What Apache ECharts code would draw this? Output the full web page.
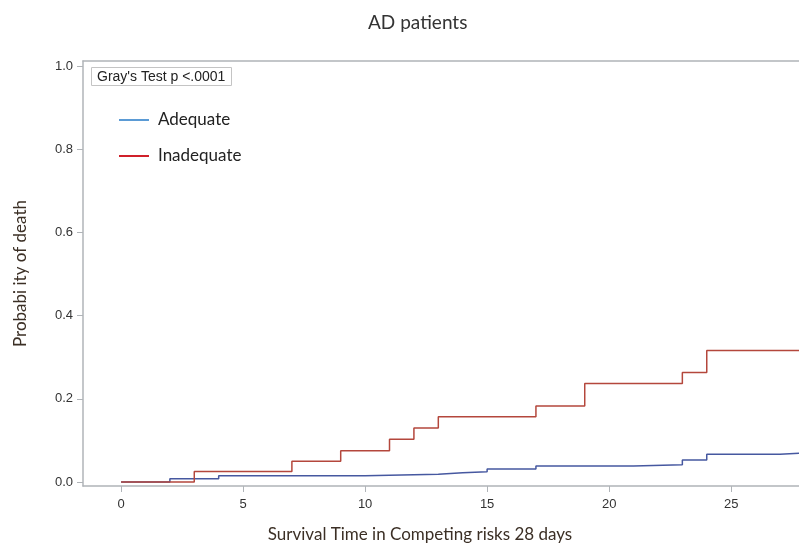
<!DOCTYPE html>
<html>
<head>
<meta charset="utf-8">
<title>AD patients</title>
<script src="https://cdn.jsdelivr.net/npm/echarts@6/dist/echarts.min.js"></script>
<style>
  html, body { margin: 0; padding: 0; background: #fff; overflow: hidden; }
  #main { width: 799px; height: 548px; }
</style>
</head>
<body>
<div id="main"></div>
<script>
// cumulative incidence (time in days, probability)
var adequateTime = [0, 2, 4, 10, 13, 14, 15, 17, 21, 23, 24, 27, 28];
var adequateProb = [0, 0.008, 0.015, 0.0185, 0.0224, 0.0248, 0.031, 0.0385, 0.0417, 0.053, 0.0665, 0.0697, 0.0697];
var inadequateTime = [0, 3, 7, 9, 11, 12, 13, 17, 19, 23, 24, 28];
var inadequateProb = [0, 0.025, 0.05, 0.075, 0.103, 0.13, 0.157, 0.183, 0.237, 0.263, 0.316, 0.316];
var xTicks = [0, 5, 10, 15, 20, 25];
var yTicks = [0, 0.2, 0.4, 0.6, 0.8, 1.0];

function pairs(xs, ys) {
    var out = [];
    for (var i = 0; i < xs.length; i++) out.push([xs[i], ys[i]]);
    return out;
}

var myChart = echarts.init(document.getElementById('main'));
var axisGray = '#b0b4b8';
var nameColor = '#3b2f25';
var xMin = -1.56, xMax = 27.78;

var option = {
    animation: false,
    title: [{
        text: 'AD patients',
        left: 363,
        top: 8,
        textStyle: { fontFamily: 'Lato', fontSize: 19, fontWeight: 'normal', color: '#333' }
    }, {
        text: "Gray's Test p <.0001",
        left: 91,
        top: 67,
        padding: [3, 6, 2, 6],
        borderColor: '#c4c4c4',
        borderWidth: 1,
        textStyle: { fontFamily: 'Liberation Sans', fontSize: 14, fontWeight: 'normal', color: '#222' }
    }],
    legend: {
        orient: 'vertical',
        left: 114,
        top: 105,
        itemWidth: 30,
        itemHeight: 14,
        itemGap: 16,
        textStyle: { fontFamily: 'Lato', fontSize: 17, color: '#222', lineHeight: 20, padding: [0, 0, 0, 4] },
        data: [
            { name: 'Adequate', icon: 'path://M0,6 L30,6 L30,8 L0,8 Z', itemStyle: { color: '#5b9bd5' } },
            { name: 'Inadequate', icon: 'path://M0,6 L30,6 L30,8 L0,8 Z', itemStyle: { color: '#d0202a' } }
        ]
    },
    grid: { left: 83, right: 0, top: 61, bottom: 62 },
    xAxis: [{
        type: 'value',
        min: xMin,
        max: xMax,
        name: 'Survival Time in Competing risks 28 days',
        nameLocation: 'middle',
        nameGap: 40,
        nameTextStyle: { fontFamily: 'Lato', fontSize: 17, color: nameColor, padding: [0, 42, 0, 0] },
        axisLine: { onZero: false, lineStyle: { color: axisGray, width: 1.5 } },
        axisTick: { show: true, length: 6, customValues: xTicks, lineStyle: { color: axisGray } },
        axisLabel: { customValues: xTicks, margin: 12, fontFamily: 'Liberation Sans', fontSize: 13, color: '#333' },
        splitLine: { show: false }
    }, {
        // top frame line only
        type: 'value',
        position: 'top',
        min: xMin,
        max: xMax,
        axisLine: { onZero: false, lineStyle: { color: axisGray, width: 1.5 } },
        axisTick: { show: false },
        axisLabel: { show: false },
        splitLine: { show: false }
    }],
    yAxis: {
        type: 'value',
        min: -0.0096,
        max: 1.012,
        name: 'Probabi ity of death',
        nameLocation: 'middle',
        nameGap: 54,
        nameTextStyle: { fontFamily: 'Lato', fontSize: 17, color: nameColor },
        axisLine: { show: true, onZero: false, lineStyle: { color: axisGray, width: 1.5 } },
        axisTick: { show: true, length: 6, customValues: yTicks, lineStyle: { color: axisGray } },
        axisLabel: {
            customValues: yTicks,
            margin: 10,
            fontFamily: 'Liberation Sans',
            fontSize: 13,
            color: '#333',
            formatter: function (v) { return v.toFixed(1); }
        },
        splitLine: { show: false }
    },
    series: [{
        name: 'Adequate',
        type: 'line',
        step: 'end',
        symbol: 'none',
        lineStyle: { color: '#4658a0', width: 1.5 },
        itemStyle: { color: '#4658a0' },
        data: pairs(adequateTime, adequateProb)
    }, {
        name: 'Inadequate',
        type: 'line',
        step: 'end',
        symbol: 'none',
        lineStyle: { color: '#b4473c', width: 1.5 },
        itemStyle: { color: '#b4473c' },
        data: pairs(inadequateTime, inadequateProb)
    }]
};
myChart.setOption(option);
</script>
</body>
</html>
